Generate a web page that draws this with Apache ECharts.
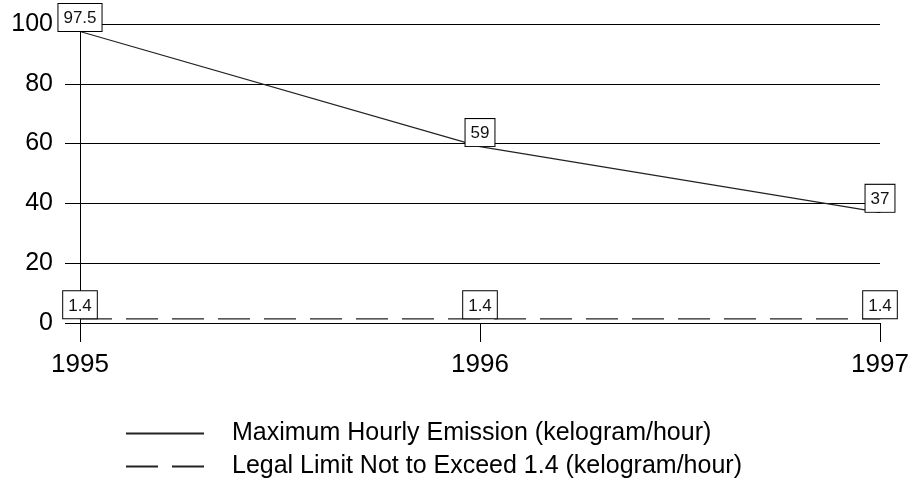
<!DOCTYPE html>
<html><head><meta charset="utf-8">
<script src="https://cdn.jsdelivr.net/npm/echarts@6/dist/echarts.min.js"></script>
<style>html,body{margin:0;padding:0;background:#fff}#c{width:917px;height:492px}</style>
</head><body><div id="c"></div>
<script>
const years = ['1995', '1996', '1997'];
const maxEmission = [97.5, 59, 37];
const legalLimit = [1.4, 1.4, 1.4];
const yTicks = [0, 20, 40, 60, 80, 100];
const seriesNames = ['Maximum Hourly Emission (kelogram/hour)', 'Legal Limit Not to Exceed 1.4 (kelogram/hour)'];

const font = 'Liberation Sans, Arial, sans-serif';
const labelStyle = {
  show: true, position: 'top', distance: 0,
  backgroundColor: '#fff', borderColor: '#000', borderWidth: 1,
  padding: [6, 5, 4, 5], color: '#111', fontSize: 17, fontFamily: font
};
const chart = echarts.init(document.getElementById('c'));
chart.setOption({
  animation: false,
  backgroundColor: '#fff',
  grid: { left: 80, right: 37, top: 24, bottom: 169 },
  xAxis: {
    type: 'category', data: years, boundaryGap: false,
    axisLine: { lineStyle: { color: '#000', width: 1 } },
    axisTick: { show: true, length: 19, lineStyle: { color: '#000' }, alignWithLabel: true },
    axisLabel: { color: '#000', fontSize: 26, fontFamily: font, margin: 29 },
    splitLine: { show: false }
  },
  yAxis: {
    type: 'value', min: yTicks[0], max: yTicks[yTicks.length - 1], interval: 20,
    axisLine: { show: true, lineStyle: { color: '#000', width: 1 } },
    axisTick: { show: true, length: 15, lineStyle: { color: '#000' } },
    axisLabel: { color: '#000', fontSize: 25, fontFamily: font, margin: 27 },
    splitLine: { show: true, lineStyle: { color: '#000', width: 1 } }
  },
  legend: {
    orient: 'vertical', left: 120, top: 416, itemWidth: 78, itemHeight: 16, itemGap: 8,
    data: seriesNames,
    itemStyle: { opacity: 0 },
    textStyle: { color: '#000', fontSize: 25, fontFamily: font, padding: [0, 0, 0, 23] }
  },
  series: [
    {
      name: seriesNames[0], type: 'line', data: maxEmission, symbol: 'circle', symbolSize: 1,
      itemStyle: { color: '#222' },
      lineStyle: { color: '#222', width: 1.2, type: 'solid' },
      label: labelStyle
    },
    {
      name: seriesNames[1], type: 'line', data: legalLimit, symbol: 'circle', symbolSize: 1,
      itemStyle: { color: '#222' },
      lineStyle: { color: '#222', width: 1.2, type: [32, 14] },
      label: labelStyle
    }
  ]
});
</script>
</body></html>
